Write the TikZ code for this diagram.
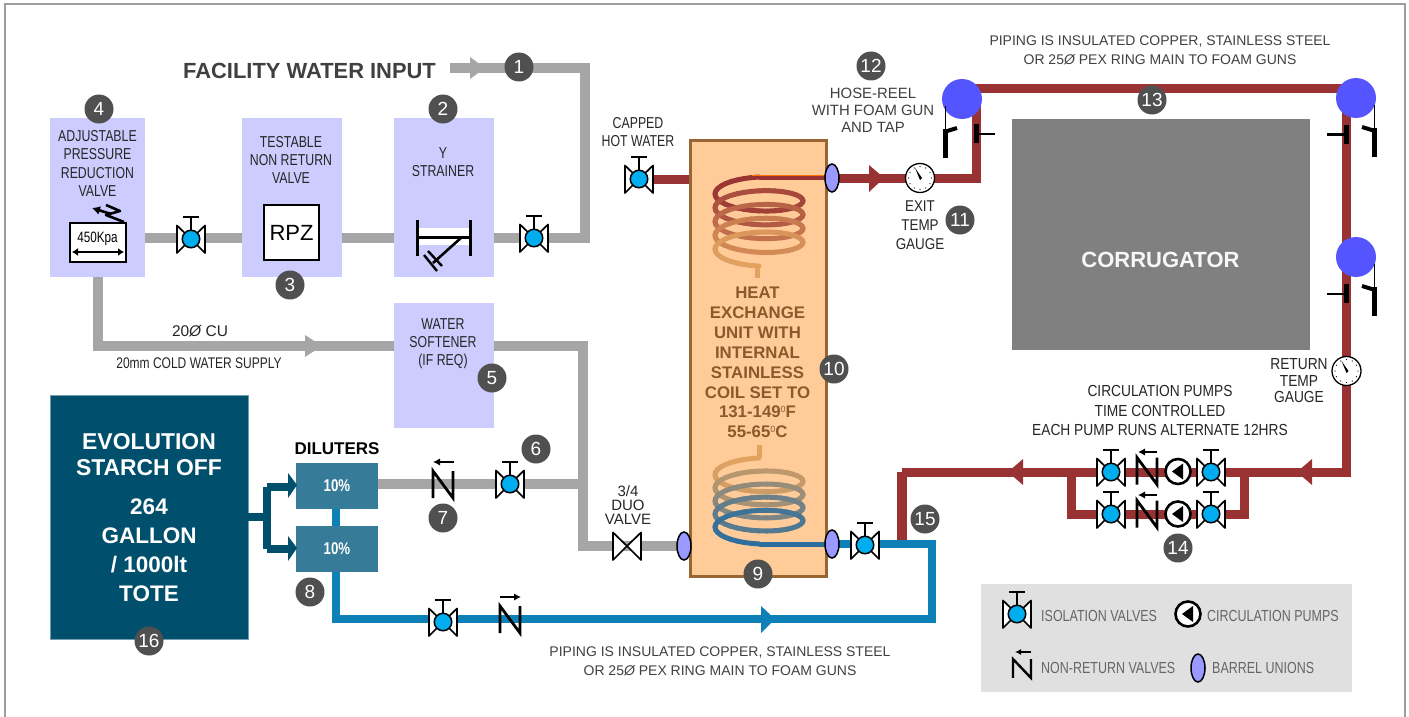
\documentclass[tikz,border=0pt]{standalone}
\usepackage{fontspec}
\usetikzlibrary{shapes.geometric,arrows.meta}
\setmainfont{Liberation Sans}
\newfontfamily\nar[FakeStretch=0.86]{Liberation Sans}
\newfontfamily\narr[FakeStretch=0.78]{Liberation Sans}
\definecolor{boxlav}{HTML}{CCCCFF}
\definecolor{pipeg}{HTML}{A6A6A6}
\definecolor{piper}{HTML}{993333}
\definecolor{pipeb}{HTML}{0D80B8}
\definecolor{navy}{HTML}{004F6D}
\definecolor{dil}{HTML}{367C99}
\definecolor{badgec}{HTML}{505050}
\definecolor{valveb}{HTML}{00ADEF}
\definecolor{barrelc}{HTML}{9999FF}
\definecolor{foamc}{HTML}{5555FF}
\definecolor{hxfill}{HTML}{FFCC99}
\definecolor{hxline}{HTML}{996633}
\definecolor{hxtext}{HTML}{8A5A2B}
\definecolor{coilA}{HTML}{993333}
\definecolor{coilB}{HTML}{E3A360}
\definecolor{coilC}{HTML}{2C6E9E}
\definecolor{txg}{HTML}{404040}
\tikzset{
  x=1pt,y=-1pt,
  greyp/.style={draw=pipeg,line width=9.5pt},
  redp/.style={draw=piper,line width=9pt},
  redpw/.style={draw=piper,line width=10pt},
  bluep/.style={draw=pipeb,line width=8.5pt},
  navyp/.style={draw=navy,line width=8pt},
  lav/.style={rectangle,fill=boxlav,inner sep=0pt},
  badge/.style={circle,fill=badgec,text=white,inner sep=0pt,minimum size=29pt,font=\fontsize{19}{19}\selectfont},
  tx/.style={align=center,inner sep=0pt,text=black!85,font=\narr\fontsize{15.8}{18.3}\selectfont},
  txn/.style={align=center,inner sep=0pt,text=black!85,font=\nar\fontsize{16}{18.5}\selectfont},
  txl/.style={anchor=west,inner sep=0pt,text=txg!80,font=\narr\fontsize{16}{18.3}\selectfont},
  txgr/.style={align=center,inner sep=0pt,text=txg,font=\fontsize{14}{19.2}\selectfont},
  barrel/.style={ellipse,draw=black,line width=1.5pt,fill=barrelc,inner sep=0pt,minimum width=14pt,minimum height=28pt},
  pumpc/.style={circle,draw=black,line width=2.6pt,fill=white,inner sep=0pt,minimum size=25pt},
  gaugec/.style={circle,draw=black,line width=1.3pt,fill=white,inner sep=0pt,minimum size=29pt},
  valvesym/.pic={
    \draw[black,line width=1.7pt,fill=white,line join=round] (0,0) -- (-14,-13.5) -- (-14,14) -- cycle;
    \draw[black,line width=1.7pt,fill=white,line join=round] (0,0) -- (14,-13.5) -- (14,14) -- cycle;
    \draw[black,line width=2.5pt] (0,-8) -- (0,-22);
    \draw[black,line width=2.5pt] (-8,-22) -- (8,-22);
    \node[circle,draw=black,line width=1.5pt,fill=valveb,inner sep=0pt,minimum size=17.5pt] (-c) at (0,0) {};
  },
  duosym/.pic={
    \draw[black,line width=1.7pt,fill=white,line join=round] (0,0) -- (-14,-13.5) -- (-14,14) -- cycle;
    \draw[black,line width=1.7pt,fill=white,line join=round] (0,0) -- (14,-13.5) -- (14,14) -- cycle;
    \coordinate (-c) at (0,0);
  },
  nsym/.pic={
    \draw[black,line width=2.8pt,line join=miter] (-10,13.5) -- (-10,-13.5) -- (10,13.5) -- (10,-13.5);
    \coordinate (-c) at (0,0);
  },
  pumpsym/.pic={
    \node[pumpc] (-c) at (0,0) {};
    \fill[black] (-6,0) -- (5,-8) -- (5,8) -- cycle;
  },
  gaugesym/.pic={
    \node[gaugec] (-c) at (0,0) {};
    \foreach \a in {0,30,...,330} \fill[black] (\a:11.5) circle (0.6pt);
    \fill[black] (-5,-10) -- (2,0) -- (0,2) -- cycle;
  },
  gunsym/.pic={
    \draw[black,line width=1pt] (0,-24) -- (0,0);
    \draw[black,line width=5pt] (0,-1) -- (0,28);
    \draw[black,line width=4pt] (1,2) -- (-12,-2);
    \coordinate (-c) at (0,0);
  },
  tapsym/.pic={
    \draw[black,line width=5pt] (0,-10) -- (0,9);
    \draw[black,line width=2.8pt] (0,0) -- (-19,0);
    \coordinate (-c) at (0,0);
  },
  checkarrow/.style={black,line width=2.4pt,-{Latex[length=7pt,width=7.5pt]}},
}
\newcommand{\degz}{\raisebox{0.62ex}{\fontsize{9}{9}\mdseries\selectfont 0}}
\begin{document}
\begin{tikzpicture}
\useasboundingbox (0,0) rectangle (1409,717);
\fill[white] (0,0) rectangle (1409,717);
\draw[black!38,line width=2pt] (5,717) -- (5,4) -- (1405,4) -- (1405,717);

% ---- coordinates of pipe corners
\coordinate (fiStart) at (450,68);
\coordinate (cw1) at (585,68);
\coordinate (cw2) at (585,238);
\coordinate (s1) at (98,346);
\coordinate (s2) at (583,346);
\coordinate (s3) at (583,546);
\coordinate (s4) at (583,484);
\coordinate (h1) at (976,178);
\coordinate (h2) at (976,89);
\coordinate (h3) at (1346,89);
\coordinate (h4) at (1346,472);
\coordinate (r1) at (902,472);
\coordinate (r2) at (902,544);
\coordinate (lp1) at (1071,472);
\coordinate (lp2) at (1071,514);
\coordinate (lp3) at (1244,514);
\coordinate (lp4) at (1244,472);
\coordinate (b1) at (932,544);
\coordinate (b2) at (932,619);
\coordinate (b3) at (336,619);
\coordinate (n1) at (267,487);
\coordinate (n2) at (267,549);
\coordinate (n3) at (267,517);
\coordinate (hcap) at (690,179);

% ---- boxes
\node[lav,minimum width=95pt,minimum height=159pt] (prv) at (97.5,197.5) {};
\node[lav,minimum width=100pt,minimum height=159pt] (tnr) at (292,197.5) {};
\node[lav,minimum width=100pt,minimum height=159pt] (ystr) at (444,197.5) {};
\node[lav,minimum width=100pt,minimum height=125pt] (soft) at (444,365.5) {};

% ---- pipes
\draw[greyp] (fiStart) -- (cw1) -- (cw2) -- (ystr.east |- cw2);
\draw[greyp] (ystr.west |- cw2) -- (tnr.east |- cw2);
\draw[greyp] (tnr.west |- cw2) -- (prv.east |- cw2);
\draw[greyp] (prv.south -| s1) -- (s1) -- (soft.west |- s1);
\draw[greyp] (soft.east |- s2) -- (s2) -- (s3) -- (684,546);
\draw[greyp] (378,484) -- (s4);
\draw[redp] (639,179) -- (hcap);
\draw[redp] (832,178) -- (h1) -- (h2) -- (h3) -- (h4) -- (r1);
\draw[redpw] (r1) -- (r2);
\draw[redp] (lp1) -- (lp2) -- (lp3) -- (lp4);

% ---- nodes on the pipes
\node[rectangle,fill=navy,draw=navy!55!white,line width=0.5pt,inner sep=0pt,minimum width=198pt,minimum height=244pt] (tote) at (149,517) {};
\node[rectangle,fill=hxfill,draw=hxline,line width=3pt,inner sep=0pt,minimum width=136pt,minimum height=436pt] (hx) at (758,358) {};
\node[rectangle,fill=black!50,inner sep=0pt,minimum width=298pt,minimum height=231pt] (corr) at (1161,234.5) {};
\node[text=black!3,inner sep=0pt,font=\bfseries\fontsize{22}{22}\selectfont] (corrt) at (1160.5,260) {CORRUGATOR};

\draw[bluep] (336,500) -- (336,535);
\draw[bluep] (336,560) -- (b3) -- (b2) -- (b1) -- (832,544);
\draw[navyp] (tote.east |- n3) -- (n3);
\draw[navyp] (n1) -- (n2);
\draw[navyp] (n1) -- (289,487);
\draw[navyp] (n2) -- (289,549);
\node[rectangle,fill=dil,inner sep=0pt,minimum width=82pt,minimum height=46pt,text=white,font=\narr\bfseries\fontsize{17}{17}\selectfont] (d1) at (337,486) {10\%};
\node[rectangle,fill=dil,inner sep=0pt,minimum width=82pt,minimum height=46pt,text=white,font=\narr\bfseries\fontsize{17}{17}\selectfont] (d2) at (337,549) {10\%};

% ---- arrowheads on the pipes
\fill[pipeg] (470,57) -- (485,68) -- (470,79) -- cycle;
\fill[pipeg] (305,335) -- (322,346) -- (305,357) -- cycle;
\fill[piper] (869,165) -- (884,178) -- (869,192) -- cycle;
\fill[piper] (1312,459) -- (1297,472) -- (1312,485) -- cycle;
\fill[piper] (1023,459) -- (1008,472) -- (1023,485) -- cycle;
\fill[pipeb] (761,606) -- (775,619) -- (761,633) -- cycle;
\fill[navy] (288,473) -- (297,485) -- (288,498) -- cycle;
\fill[navy] (288,536) -- (297,548) -- (288,561) -- cycle;

% ---- coils
\foreach \s in {0,10,...,1610}{
  \pgfmathsetmacro\xa{759-44*sin(\s)}
  \pgfmathsetmacro\ya{190.5+\s/360*13.8-13.5*cos(\s)}
  \pgfmathsetmacro\xb{759-44*sin(\s+10)}
  \pgfmathsetmacro\yb{190.5+(\s+10)/360*13.8-13.5*cos(\s+10)}
  \pgfmathsetmacro\pc{\s/16.2}
  \draw[line width=5pt,line cap=round,color=coilB!\pc!coilA] (\xa,\ya) -- (\xb,\yb);
  \pgfmathsetmacro\yc{471.5+\s/360*13.1-13.5*cos(\s)}
  \pgfmathsetmacro\yd{471.5+(\s+10)/360*13.1-13.5*cos(\s+10)}
  \draw[line width=5pt,line cap=round,color=coilC!\pc!coilB] (\xa,\yc) -- (\xb,\yd);
}
\draw[line width=5pt,coilA] (759,177) -- (826,177);
\draw[line width=1pt,orange!90!red] (752,175) -- (824,175);
\draw[line width=5pt,coilB] (759,266) -- (757,266) -- (757,278);
\draw[line width=5pt,coilB] (759,445) -- (759,458);
\draw[line width=5pt,coilC] (759,544) -- (826,544);

% ---- barrels
\node[barrel] (bu1) at (684,546) {};
\node[barrel] (bu2) at (832,178) {};
\node[barrel] (bu3) at (832,544) {};

% ---- valves
\pic (v1) at (191,239) {valvesym};
\pic (v2) at (534,238) {valvesym};
\pic (v3) at (639,179) {valvesym};
\pic (v4) at (510,484) {valvesym};
\pic (v5) at (443,622) {valvesym};
\pic (v6) at (865,545) {valvesym};
\pic (v7) at (1111,472) {valvesym};
\pic (v8) at (1211,472) {valvesym};
\pic (v9) at (1111,514) {valvesym};
\pic (v10) at (1211,514) {valvesym};
\pic (duo) at (627,546) {duosym};

% ---- check valves
\pic (nr1) at (443,484.5) {nsym};
\draw[checkarrow] (454,462) -- (433,462);
\pic (nr2) at (510,619.5) {nsym};
\draw[checkarrow] (500,597) -- (521,597);
\pic (nr3) at (1147,471) {nsym};
\draw[checkarrow] (1157,452) -- (1138,452);
\pic (nr4) at (1147,514) {nsym};
\draw[checkarrow] (1157,495) -- (1138,495);

% ---- pumps
\pic (p1) at (1178,471.5) {pumpsym};
\pic (p2) at (1178,514) {pumpsym};

% ---- gauges
\pic (g1) at (920,178) {gaugesym};
\pic (g2) at (1346.5,371) {gaugesym};

% ---- foam guns
\node[circle,fill=foamc,inner sep=0pt,minimum size=40pt] (f1) at (962,99) {};
\node[circle,fill=foamc,inner sep=0pt,minimum size=40pt] (f2) at (1356,98) {};
\node[circle,fill=foamc,inner sep=0pt,minimum size=40pt] (f3) at (1356,257) {};
\pic[xscale=-1] (gun1) at (945,130) {gunsym};
\pic (gun2) at (1374,129) {gunsym};
\pic (gun3) at (1374,288) {gunsym};
\pic[xscale=-1] (tap1) at (976,134) {tapsym};
\pic (tap2) at (1346,134.5) {tapsym};
\pic (tap3) at (1346,294) {tapsym};

% ---- pressure valve detail
\node[rectangle,draw=black,line width=2.6pt,fill=white,inner sep=0pt,minimum width=56pt,minimum height=39pt] (kpa) at (98,242.5) {};
\node[inner sep=0pt,text=black,font=\narr\fontsize{15}{15}\selectfont] (kpat) at (97.5,239) {450Kpa};
\draw[black,line width=2.2pt,{Latex[length=6pt,width=8pt]}-{Latex[length=6pt,width=8pt]}] (72,252) -- (124,252);
\draw[black,line width=2.6pt,-{Latex[length=8pt,width=9pt]}] (111,214) -- (92,208);
\draw[black,line width=2.6pt,line join=round] (106,205) -- (120,211) -- (106,215) -- (124,222);

% ---- RPZ
\node[rectangle,draw=black,line width=2.6pt,fill=white,inner sep=0pt,minimum width=55pt,minimum height=55pt,font=\fontsize{22}{22}\selectfont] (rpz) at (291.5,232.5) {RPZ};

% ---- Y strainer
\fill[white] (417,228) rectangle (470,245);
\draw[black,line width=3pt] (417,220) -- (417,256);
\draw[black,line width=3pt] (470,220) -- (470,256);
\draw[black,line width=3pt] (417,237) -- (470,237);
\draw[black,line width=2.6pt] (462,237) -- (433,263);
\draw[black,line width=2.4pt] (424,255) -- (437,271);
\draw[black,line width=2.4pt] (428,251) -- (442,266);

% ---- text
\node[inner sep=0pt,text=txg,font=\bfseries\fontsize{21.9}{22}\selectfont] (title) at (309.5,71) {FACILITY WATER INPUT};
\node[tx] (t4) at (97.5,163.5) {ADJUSTABLE\\PRESSURE\\REDUCTION\\VALVE};
\node[tx] (t3) at (291,160) {TESTABLE\\NON RETURN\\VALVE};
\node[tx] (t2) at (443,162) {Y\\STRAINER};
\node[tx] (t5) at (443,343.5) {WATER\\SOFTENER\\(IF REQ)};
\node[tx,font=\fontsize{15.5}{16}\selectfont] (t20) at (200,331) {20{\itshape Ø} CU};
\node[tx,font=\narr\fontsize{15.4}{16}\selectfont] (t20b) at (199,363) {20mm COLD WATER SUPPLY};
\node[tx] (tcap) at (638,132) {CAPPED\\HOT WATER};
\node[tx,font=\fontsize{15}{14.2}\selectfont] (tduo) at (628,505) {3/4\\DUO\\VALVE};
\node[txgr,font=\fontsize{14.9}{17}\selectfont] (thr) at (873,110) {HOSE-REEL\\WITH FOAM GUN\\AND TAP};
\node[txn,font=\nar\fontsize{15.6}{19}\selectfont] (texit) at (920,225) {EXIT\\TEMP\\GAUGE};
\node[txn,font=\nar\fontsize{16}{16.5}\selectfont] (tret) at (1299,381) {RETURN\\TEMP\\GAUGE};
\node[txgr] (ttop) at (1160,50.5) {PIPING IS INSULATED COPPER, STAINLESS STEEL\\OR 25{\itshape Ø} PEX RING MAIN TO FOAM GUNS};
\node[txgr] (tbot) at (720,661) {PIPING IS INSULATED COPPER, STAINLESS STEEL\\OR 25{\itshape Ø} PEX RING MAIN TO FOAM GUNS};
\node[txn,font=\nar\fontsize{16}{19.5}\selectfont] (tcirc) at (1160,410.5) {CIRCULATION PUMPS\\TIME CONTROLLED\\EACH PUMP RUNS ALTERNATE 12HRS};
\node[align=center,inner sep=0pt,text=hxtext,font=\bfseries\fontsize{16.8}{19.9}\selectfont] (thx) at (757.5,362.5) {HEAT\\EXCHANGE\\UNIT WITH\\INTERNAL\\STAINLESS\\COIL SET TO\\131-149\degz F\\55-65\degz C};
\node[inner sep=0pt,text=black,font=\bfseries\fontsize{17}{17}\selectfont] (tdil) at (337,449) {DILUTERS};
\node[align=center,inner sep=0pt,text=white,font=\bfseries\fontsize{22.9}{26}\selectfont] (ttote1) at (149,455) {EVOLUTION\\STARCH OFF};
\node[align=center,inner sep=0pt,text=white,font=\bfseries\fontsize{22.5}{29}\selectfont] (ttote2) at (149,550.5) {264\\GALLON\\/ 1000lt\\TOTE};

% ---- legend
\node[rectangle,fill=black!12,inner sep=0pt,minimum width=371pt,minimum height=108pt] (leg) at (1166.5,638) {};
\pic (lv) at (1017,614) {valvesym};
\pic (lp) at (1188,614) {pumpsym};
\begin{scope}[shift={(1022,668.5)},scale=0.9]
\draw[black,line width=2.4pt] (-10,10.5) -- (-10,-10.5) -- (10,10.5) -- (10,-10.5);
\end{scope}
\draw[black,line width=2pt,-{Latex[length=6pt,width=6pt]}] (1031,652) -- (1015,652);
\node[barrel] (lb) at (1198,668) {};
\node[txl] (l1) at (1041,616) {ISOLATION VALVES};
\node[txl] (l2) at (1207,616) {CIRCULATION PUMPS};
\node[txl] (l3) at (1041,668) {NON-RETURN VALVES};
\node[txl] (l4) at (1212,668) {BARREL UNIONS};

% ---- badges
\node[badge] (n01) at (519,67) {1};
\node[badge] (n02) at (443,109) {2};
\node[badge] (n03) at (290,285) {3};
\node[badge] (n04) at (99,109) {4};
\node[badge] (n05) at (492,378) {5};
\node[badge] (n06) at (536,449) {6};
\node[badge] (n07) at (443,518) {7};
\node[badge] (n08) at (310,592) {8};
\node[badge] (n09) at (758,574) {9};
\node[badge] (n10) at (834,369) {10};
\node[badge] (n11) at (960,220) {11};
\node[badge] (n12) at (871,66) {12};
\node[badge] (n13) at (1152,100) {13};
\node[badge] (n14) at (1178,548) {14};
\node[badge] (n15) at (925,519) {15};
\node[badge] (n16) at (149,641) {16};
\end{tikzpicture}
\end{document}
